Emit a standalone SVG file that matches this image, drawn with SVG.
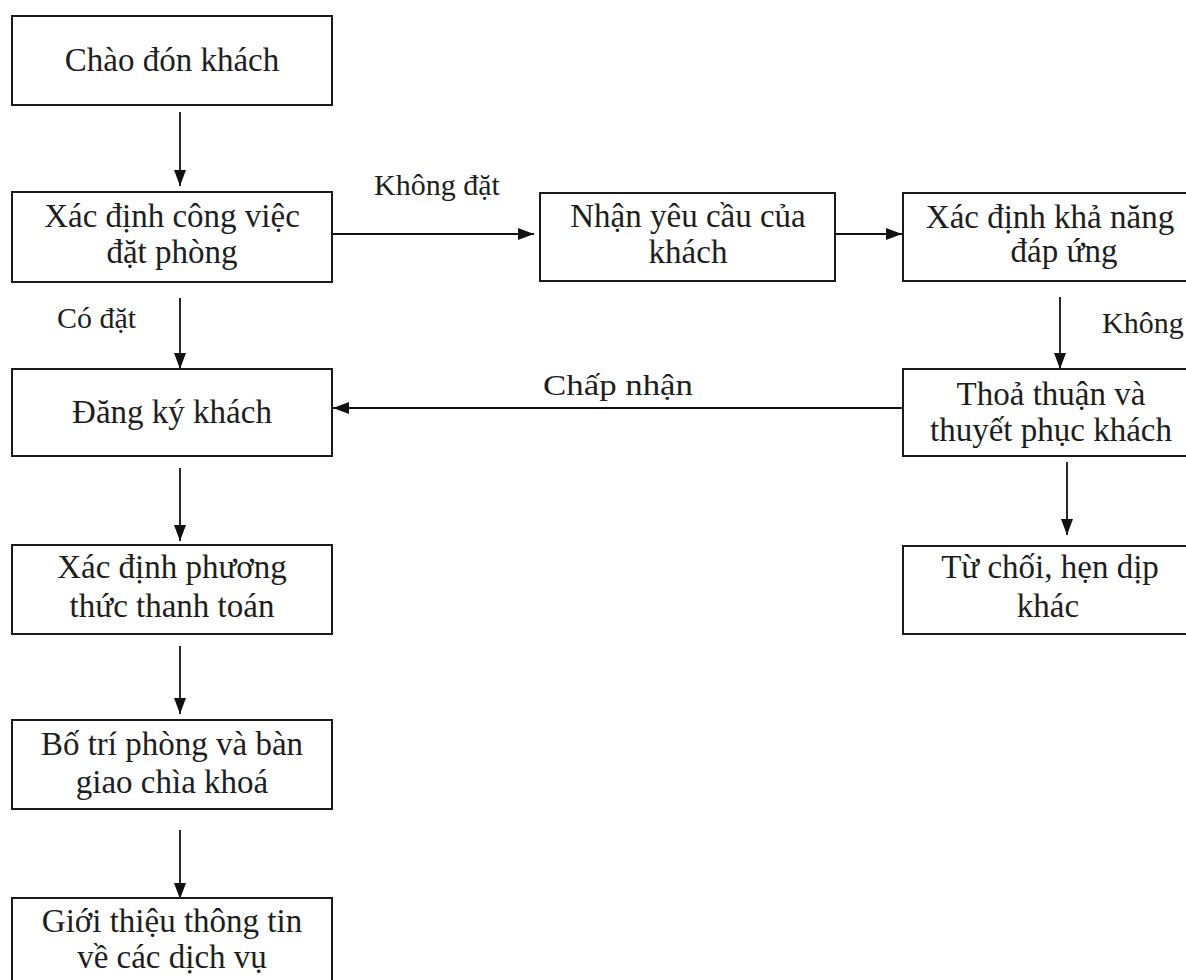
<svg xmlns="http://www.w3.org/2000/svg" width="1186" height="980" viewBox="0 0 1186 980">
  <style>
    .box { fill: #ffffff; stroke: #1a1a1a; stroke-width: 2; }
    .t { font-family: "Liberation Serif", "Times New Roman", serif; font-size: 33px; fill: #1e1e1e; text-anchor: middle; }
    .lbl { font-family: "Liberation Serif", "Times New Roman", serif; font-size: 30px; fill: #1e1e1e; }
    .edge { stroke: #111111; stroke-width: 1.8; fill: none; marker-end: url(#arrow); }
  </style>
  <defs>
    <marker id="arrow" viewBox="0 0 16 12" refX="16" refY="6" markerWidth="16" markerHeight="12" markerUnits="userSpaceOnUse" orient="auto">
      <path d="M0,0 L16,6 L0,12 Z" fill="#111111"/>
    </marker>
  </defs>
  <rect width="1186" height="980" fill="#ffffff"/>

  <g id="connectors">
    <path class="edge" d="M180,112 V186"/>
    <path class="edge" d="M180,298 V369"/>
    <path class="edge" d="M180,468 V541"/>
    <path class="edge" d="M180,646 V714"/>
    <path class="edge" d="M180,830 V899"/>
    <path class="edge" d="M333,234 H534"/>
    <path class="edge" d="M836,234 H902"/>
    <path class="edge" d="M1060,297 V369"/>
    <path class="edge" d="M1067,462 V535"/>
    <path class="edge" d="M903,408 H333"/>
    <text class="lbl" x="374" y="195">Không đặt</text>
    <text class="lbl" x="57" y="328">Có đặt</text>
    <text class="lbl" x="1102" y="333">Không</text>
    <text class="lbl" x="618" y="395" text-anchor="middle" textLength="150" lengthAdjust="spacingAndGlyphs">Chấp nhận</text>
  </g>

  <g id="n-chao-don">
    <rect class="box" x="12" y="16" width="320" height="89"/>
    <text class="t" x="172" y="71">Chào đón khách</text>
  </g>
  <g id="n-xac-dinh-dat-phong">
    <rect class="box" x="12" y="192" width="320" height="90"/>
    <text class="t" x="172" y="227">Xác định công việc</text>
    <text class="t" x="172" y="263">đặt phòng</text>
  </g>
  <g id="n-nhan-yeu-cau">
    <rect class="box" x="540" y="193" width="295" height="88"/>
    <text class="t" x="688" y="227">Nhận yêu cầu của</text>
    <text class="t" x="688" y="263">khách</text>
  </g>
  <g id="n-kha-nang">
    <rect class="box" x="903" y="193" width="310" height="88"/>
    <text class="t" x="1050" y="228">Xác định khả năng</text>
    <text class="t" x="1064" y="262">đáp ứng</text>
  </g>
  <g id="n-dang-ky">
    <rect class="box" x="12" y="369" width="320" height="87"/>
    <text class="t" x="172" y="423">Đăng ký khách</text>
  </g>
  <g id="n-thoa-thuan">
    <rect class="box" x="903" y="369" width="296" height="87"/>
    <text class="t" x="1051" y="405">Thoả thuận và</text>
    <text class="t" x="1051" y="441">thuyết phục khách</text>
  </g>
  <g id="n-tu-choi">
    <rect class="box" x="903" y="546" width="296" height="88"/>
    <text class="t" x="1050" y="578">Từ chối, hẹn dịp</text>
    <text class="t" x="1048" y="617">khác</text>
  </g>
  <g id="n-thanh-toan">
    <rect class="box" x="12" y="545" width="320" height="89"/>
    <text class="t" x="172" y="578">Xác định phương</text>
    <text class="t" x="172" y="617">thức thanh toán</text>
  </g>
  <g id="n-bo-tri">
    <rect class="box" x="12" y="720" width="320" height="89"/>
    <text class="t" x="172" y="755">Bố trí phòng và bàn</text>
    <text class="t" x="172" y="793">giao chìa khoá</text>
  </g>
  <g id="n-gioi-thieu">
    <rect class="box" x="12" y="898" width="320" height="100"/>
    <text class="t" x="172" y="932">Giới thiệu thông tin</text>
    <text class="t" x="172" y="968">về các dịch vụ</text>
  </g>
</svg>
